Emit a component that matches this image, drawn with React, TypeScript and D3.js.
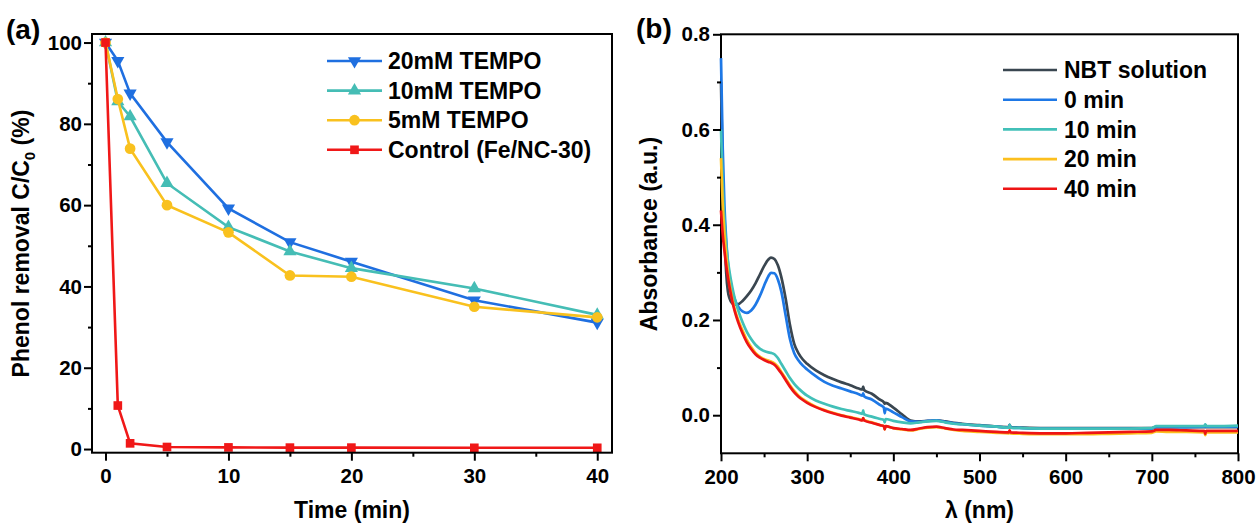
import React, { useRef, useEffect } from 'react'
import * as d3 from 'd3'

const FONT = '"Liberation Sans", Arial, Helvetica, sans-serif'

// ---- panel (a): phenol removal vs time ----
const times = [0, 1, 2, 5, 10, 15, 20, 30, 40]
const tempo20 = [100, 95.5, 87.5, 75.5, 59.2, 50.9, 46.1, 36.6, 31.1]
const tempo10 = [100, 85.5, 81.8, 65.4, 54.6, 48.6, 44.5, 39.5, 33.0]
const tempo5 = [100, 86.1, 73.9, 60.0, 53.3, 42.7, 42.4, 35.0, 32.4]
const control = [100, 10.7, 1.4, 0.5, 0.4, 0.35, 0.35, 0.3, 0.3]
const namesA = ['20mM TEMPO', '10mM TEMPO', '5mM TEMPO', 'Control (Fe/NC-30)']
const colorsA = ['#1f6fe0', '#45bdb5', '#f9c11e', '#f01818']
const symbolsA = ['down', 'up', 'circle', 'square']

// ---- panel (b): UV-vis spectra ----
const wl = [200, 202, 204, 206, 208, 210, 213, 216, 220, 225, 230, 235, 240, 245, 250, 255, 258, 262, 266, 270,
  275, 280, 285, 290, 295, 300, 310, 320, 330, 340, 350, 360, 364, 365, 366, 375, 385, 389, 390, 391,
  400, 410, 420, 430, 440, 450, 460, 470, 480, 500, 520, 534, 535, 536, 550, 575, 600, 625, 650, 675,
  700, 705, 720, 740, 761, 762, 763, 780, 800]
const nbt = [0.70, 0.50, 0.38, 0.30, 0.26, 0.245, 0.235, 0.232, 0.233, 0.24, 0.25, 0.262, 0.277, 0.295, 0.313, 0.327, 0.331, 0.328, 0.315, 0.29,
  0.245, 0.19, 0.15, 0.13, 0.117, 0.108, 0.094, 0.084, 0.076, 0.069, 0.063, 0.056, 0.054, 0.06, 0.053, 0.045, 0.032, 0.027, 0.024, 0.026,
  0.016, 0.002, -0.011, -0.013, -0.012, -0.011, -0.013, -0.016, -0.018, -0.021, -0.024, -0.025, -0.02, -0.025, -0.026, -0.027, -0.027, -0.027, -0.027, -0.027,
  -0.027, -0.025, -0.025, -0.025, -0.025, -0.021, -0.025, -0.025, -0.025]
const min0 = [0.75, 0.56, 0.44, 0.37, 0.32, 0.29, 0.262, 0.243, 0.228, 0.218, 0.215, 0.22, 0.232, 0.25, 0.272, 0.292, 0.299, 0.298, 0.285, 0.26,
  0.21, 0.16, 0.13, 0.115, 0.104, 0.096, 0.082, 0.07, 0.062, 0.056, 0.05, 0.044, 0.041, 0.046, 0.04, 0.033, 0.021, 0.016, 0.004, 0.014,
  0.006, -0.004, -0.013, -0.014, -0.012, -0.011, -0.014, -0.017, -0.019, -0.022, -0.024, -0.026, -0.02, -0.026, -0.027, -0.028, -0.028, -0.028, -0.028, -0.028,
  -0.028, -0.025, -0.025, -0.025, -0.024, -0.02, -0.024, -0.024, -0.024]
const min10 = [0.60, 0.48, 0.41, 0.36, 0.325, 0.30, 0.27, 0.245, 0.22, 0.195, 0.175, 0.16, 0.148, 0.14, 0.135, 0.132, 0.131, 0.128, 0.12, 0.108,
  0.093, 0.078, 0.066, 0.056, 0.048, 0.041, 0.031, 0.024, 0.018, 0.013, 0.009, 0.005, 0.003, 0.01, 0.002, -0.003, -0.008, -0.01, -0.015, -0.008,
  -0.012, -0.015, -0.017, -0.015, -0.013, -0.012, -0.015, -0.018, -0.019, -0.022, -0.024, -0.026, -0.02, -0.026, -0.027, -0.028, -0.028, -0.028, -0.028, -0.028,
  -0.027, -0.023, -0.023, -0.023, -0.023, -0.019, -0.023, -0.023, -0.022]
const min20 = [0.54, 0.44, 0.38, 0.335, 0.30, 0.275, 0.245, 0.222, 0.20, 0.178, 0.158, 0.143, 0.131, 0.123, 0.118, 0.115, 0.113, 0.109, 0.102, 0.091,
  0.077, 0.063, 0.051, 0.041, 0.034, 0.028, 0.018, 0.011, 0.005, 0.0, -0.004, -0.008, -0.01, -0.006, -0.01, -0.015, -0.021, -0.023, -0.03, -0.023,
  -0.027, -0.03, -0.032, -0.029, -0.026, -0.025, -0.028, -0.031, -0.033, -0.035, -0.037, -0.038, -0.034, -0.038, -0.039, -0.04, -0.04, -0.04, -0.039, -0.038,
  -0.037, -0.034, -0.035, -0.035, -0.036, -0.042, -0.036, -0.036, -0.036]
const min40 = [0.43, 0.38, 0.345, 0.315, 0.29, 0.268, 0.24, 0.218, 0.195, 0.172, 0.153, 0.139, 0.128, 0.121, 0.116, 0.112, 0.11, 0.106, 0.098, 0.088,
  0.074, 0.06, 0.048, 0.039, 0.032, 0.026, 0.017, 0.01, 0.004, -0.001, -0.005, -0.009, -0.011, -0.006, -0.011, -0.016, -0.021, -0.023, -0.03, -0.023,
  -0.027, -0.029, -0.031, -0.028, -0.025, -0.024, -0.027, -0.03, -0.031, -0.033, -0.035, -0.036, -0.032, -0.036, -0.037, -0.038, -0.038, -0.037, -0.036, -0.035,
  -0.034, -0.031, -0.031, -0.032, -0.033, -0.039, -0.033, -0.033, -0.033]
const namesB = ['NBT solution', '0 min', '10 min', '20 min', '40 min']
const colorsB = ['#3a4650', '#1e78e6', '#42c0b8', '#fcbf1e', '#ee1414']

function drawAxes(g, x, y, o) {
  const [y0] = y.range()
  const [x0] = x.range()
  const style = sel => {
    sel.select('.domain').remove()
    sel.attr('font-size', null).attr('font-family', null)
    sel.selectAll('line').attr('stroke', '#000').attr('stroke-width', 2)
    sel.selectAll('text')
      .style('font-family', FONT).style('font-weight', 'bold').style('font-size', '20.5px').attr('fill', '#000')
  }
  g.append('g').attr('transform', `translate(0,${y0})`)
    .call(d3.axisBottom(x).tickValues(o.xMinor).tickSize(4).tickFormat(() => ''))
    .call(style)
  g.append('g').attr('transform', `translate(0,${y0})`)
    .call(d3.axisBottom(x).tickValues(o.xMajor).tickSize(8).tickPadding(8).tickFormat(o.xFmt))
    .call(style)
  g.append('g').attr('transform', `translate(${x0},0)`)
    .call(d3.axisLeft(y).tickValues(o.yMinor).tickSize(4).tickFormat(() => ''))
    .call(style)
  g.append('g').attr('transform', `translate(${x0},0)`)
    .call(d3.axisLeft(y).tickValues(o.yMajor).tickSize(8).tickPadding(o.yPad).tickFormat(o.yFmt))
    .call(style)
}

function frame(g, x, y) {
  const [xa, xb] = x.range()
  const [ya, yb] = y.range()
  g.append('rect')
    .attr('x', xa).attr('y', yb).attr('width', xb - xa).attr('height', ya - yb)
    .attr('fill', 'none').attr('stroke', '#000').attr('stroke-width', 2)
}

function symbolPath(kind, size) {
  if (kind === 'circle') return d3.symbol(d3.symbolCircle, size)()
  if (kind === 'square') return d3.symbol(d3.symbolSquare, size)()
  return d3.symbol(d3.symbolTriangle, size)()
}

export default function App() {
  const svgRef = useRef(null)

  useEffect(() => {
    const svg = d3.select(svgRef.current)
    svg.selectAll('*').remove()

    // ================= panel (a) =================
    const ga = svg.append('g')
    const xa = d3.scaleLinear().domain([-1.1, 41.2]).range([92, 612])
    const ya = d3.scaleLinear().domain([-0.9, 102.1]).range([452.7, 34])

    const seriesA = [tempo20, tempo10, tempo5, control].map((vals, i) => ({
      name: namesA[i], color: colorsA[i], symbol: symbolsA[i],
      points: times.map((t, j) => [t, vals[j]])
    }))

    const lineA = d3.line().x(d => xa(d[0])).y(d => ya(d[1]))

    seriesA.forEach(s => {
      ga.append('path').attr('d', lineA(s.points))
        .attr('fill', 'none').attr('stroke', s.color).attr('stroke-width', 2.6)
      ga.selectAll(null).data(s.points).join('path')
        .attr('d', symbolPath(s.symbol, s.symbol === 'circle' ? 90 : 75))
        .attr('transform', d => `translate(${xa(d[0])},${ya(d[1])})${s.symbol === 'down' ? ' rotate(180)' : ''}`)
        .attr('fill', s.color)
    })

    frame(ga, xa, ya)
    drawAxes(ga, xa, ya, {
      xMajor: [0, 10, 20, 30, 40], xMinor: [5, 15, 25, 35], xFmt: d3.format('d'),
      yMajor: [0, 20, 40, 60, 80, 100], yMinor: [10, 30, 50, 70, 90], yFmt: d3.format('d'), yPad: 2
    })

    // legend (a)
    const legA = ga.append('g')
    seriesA.forEach((s, i) => {
      const cy = 61 + i * 29.6
      legA.append('line').attr('x1', 327).attr('x2', 382).attr('y1', cy).attr('y2', cy)
        .attr('stroke', s.color).attr('stroke-width', 2.6)
      legA.append('path').attr('d', symbolPath(s.symbol, s.symbol === 'circle' ? 90 : 75))
        .attr('transform', `translate(354.5,${cy})${s.symbol === 'down' ? ' rotate(180)' : ''}`)
        .attr('fill', s.color)
      legA.append('text').attr('x', 388).attr('y', cy).attr('dy', '0.36em')
        .style('font-family', FONT).style('font-weight', 'bold').style('font-size', '23px')
        .text(s.name)
    })

    // titles (a)
    ga.append('text').attr('x', 352).attr('y', 518).attr('text-anchor', 'middle')
      .style('font-family', FONT).style('font-weight', 'bold').style('font-size', '23px')
      .text('Time (min)')
    const yt = ga.append('text').attr('transform', 'translate(28.5,243.5) rotate(-90)')
      .attr('text-anchor', 'middle')
      .style('font-family', FONT).style('font-weight', 'bold').style('font-size', '23px')
    yt.append('tspan').text('Phenol removal C/C')
    yt.append('tspan').attr('dy', 6).style('font-size', '15px').text('0')
    yt.append('tspan').attr('dy', -6).text(' (%)')
    ga.append('text').attr('x', 6).attr('y', 39)
      .style('font-family', FONT).style('font-weight', 'bold').style('font-size', '28px')
      .text('(a)')

    // ================= panel (b) =================
    const gb = svg.append('g')
    const xb = d3.scaleLinear().domain([200, 800]).range([721, 1238])
    const yb = d3.scaleLinear().domain([-0.08, 0.8]).range([453.3, 34.3])

    const seriesB = [nbt, min0, min10, min20, min40].map((vals, i) => ({
      name: namesB[i], color: colorsB[i],
      points: wl.map((w, j) => [w, vals[j]])
    }))
    const lineB = d3.line().x(d => xb(d[0])).y(d => yb(d[1])).curve(d3.curveMonotoneX)

    frame(gb, xb, yb)
    seriesB.forEach(s => {
      gb.append('path').attr('d', lineB(s.points))
        .attr('fill', 'none').attr('stroke', s.color).attr('stroke-width', 2.7)
        .attr('stroke-linejoin', 'round')
    })
    drawAxes(gb, xb, yb, {
      xMajor: d3.range(200, 801, 100), xMinor: d3.range(250, 800, 100), xFmt: d3.format('d'),
      yMajor: [0, 0.2, 0.4, 0.6, 0.8], yMinor: [0.1, 0.3, 0.5, 0.7], yFmt: d3.format('.1f'), yPad: 3
    })

    const legB = gb.append('g')
    seriesB.forEach((s, i) => {
      const cy = 70 + i * 29.7
      legB.append('line').attr('x1', 1003).attr('x2', 1057).attr('y1', cy).attr('y2', cy)
        .attr('stroke', s.color).attr('stroke-width', 2.6)
      legB.append('text').attr('x', 1064).attr('y', cy).attr('dy', '0.36em')
        .style('font-family', FONT).style('font-weight', 'bold').style('font-size', '23px')
        .text(s.name)
    })

    gb.append('text').attr('x', 979.5).attr('y', 518).attr('text-anchor', 'middle')
      .style('font-family', FONT).style('font-weight', 'bold').style('font-size', '23px')
      .text('λ (nm)')
    gb.append('text').attr('transform', 'translate(657,234) rotate(-90)')
      .attr('text-anchor', 'middle')
      .style('font-family', FONT).style('font-weight', 'bold').style('font-size', '23px')
      .text('Absorbance (a.u.)')
    gb.append('text').attr('x', 636).attr('y', 38)
      .style('font-family', FONT).style('font-weight', 'bold').style('font-size', '28px')
      .text('(b)')
  }, [])

  return (
    <svg ref={svgRef} width={1258} height={529}
      style={{ position: 'absolute', left: 0, top: 0, background: '#fff' }} />
  )
}
